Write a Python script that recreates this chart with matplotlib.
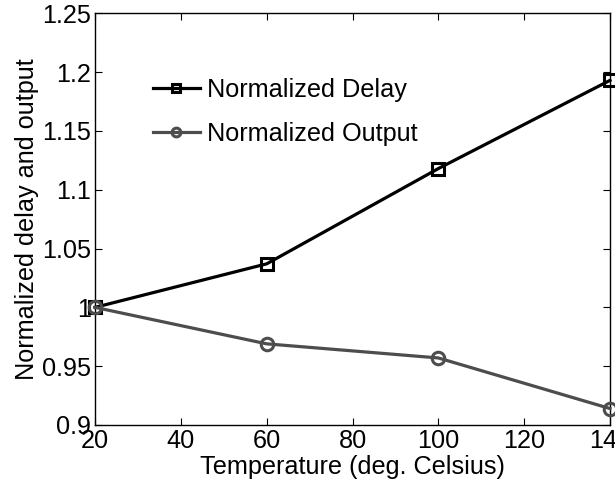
import matplotlib
matplotlib.use("Agg")
import matplotlib.pyplot as plt

temperature = [20, 60, 100, 140]
norm_delay = [1.0, 1.037, 1.118, 1.193]
norm_output = [1.0, 0.969, 0.957, 0.914]
xticks = [20, 40, 60, 80, 100, 120, 140]
yticks = [0.9, 0.95, 1.0, 1.05, 1.1, 1.15, 1.2, 1.25]
ytick_labels = ["0.9", "0.95", "1", "1.05", "1.1", "1.15", "1.2", "1.25"]

plt.rcParams['font.family'] = ['Liberation Sans', 'DejaVu Sans']
FS = 18.2

W, H = 615, 484
fig = plt.figure(figsize=(W / 100, H / 100), dpi=100)
ax = fig.add_axes([95 / W, 1 - 425 / H, (610 - 95) / W, (425 - 13.3) / H])

ax.plot(temperature, norm_delay, color='black', lw=2.3, marker='s', ms=8,
        mfc='none', mew=2.2, label='Normalized Delay', clip_on=False, zorder=3)
ax.plot(temperature, norm_output, color='#4d4d4d', lw=2.3, marker='o', ms=9,
        mfc='none', mew=2.2, label='Normalized Output', clip_on=False, zorder=3)

ax.set_xlim(20, 140)
ax.set_ylim(0.9, 1.25)
ax.set_xticks(xticks)
ax.set_xticklabels([str(t) for t in xticks])
ax.set_yticks(yticks)
ax.set_yticklabels(ytick_labels)
ax.tick_params(direction='in', length=5, width=0.8, top=True, right=True,
               labelsize=FS, pad=3)
for s in ax.spines.values():
    s.set_linewidth(1.0)

ax.set_xlabel('Temperature (deg. Celsius)', fontsize=FS, labelpad=1.5)
ax.set_ylabel('Normalized delay and output', fontsize=FS, labelpad=2)

leg = ax.legend(loc='upper left', bbox_to_anchor=(153 / W, 1 - 78 / H),
                bbox_transform=fig.transFigure, frameon=False, fontsize=FS,
                handlelength=1.85, handletextpad=0.3, labelspacing=0.8,
                borderpad=0, borderaxespad=0, markerscale=0.7)

fig.savefig('out.png', dpi=100)
